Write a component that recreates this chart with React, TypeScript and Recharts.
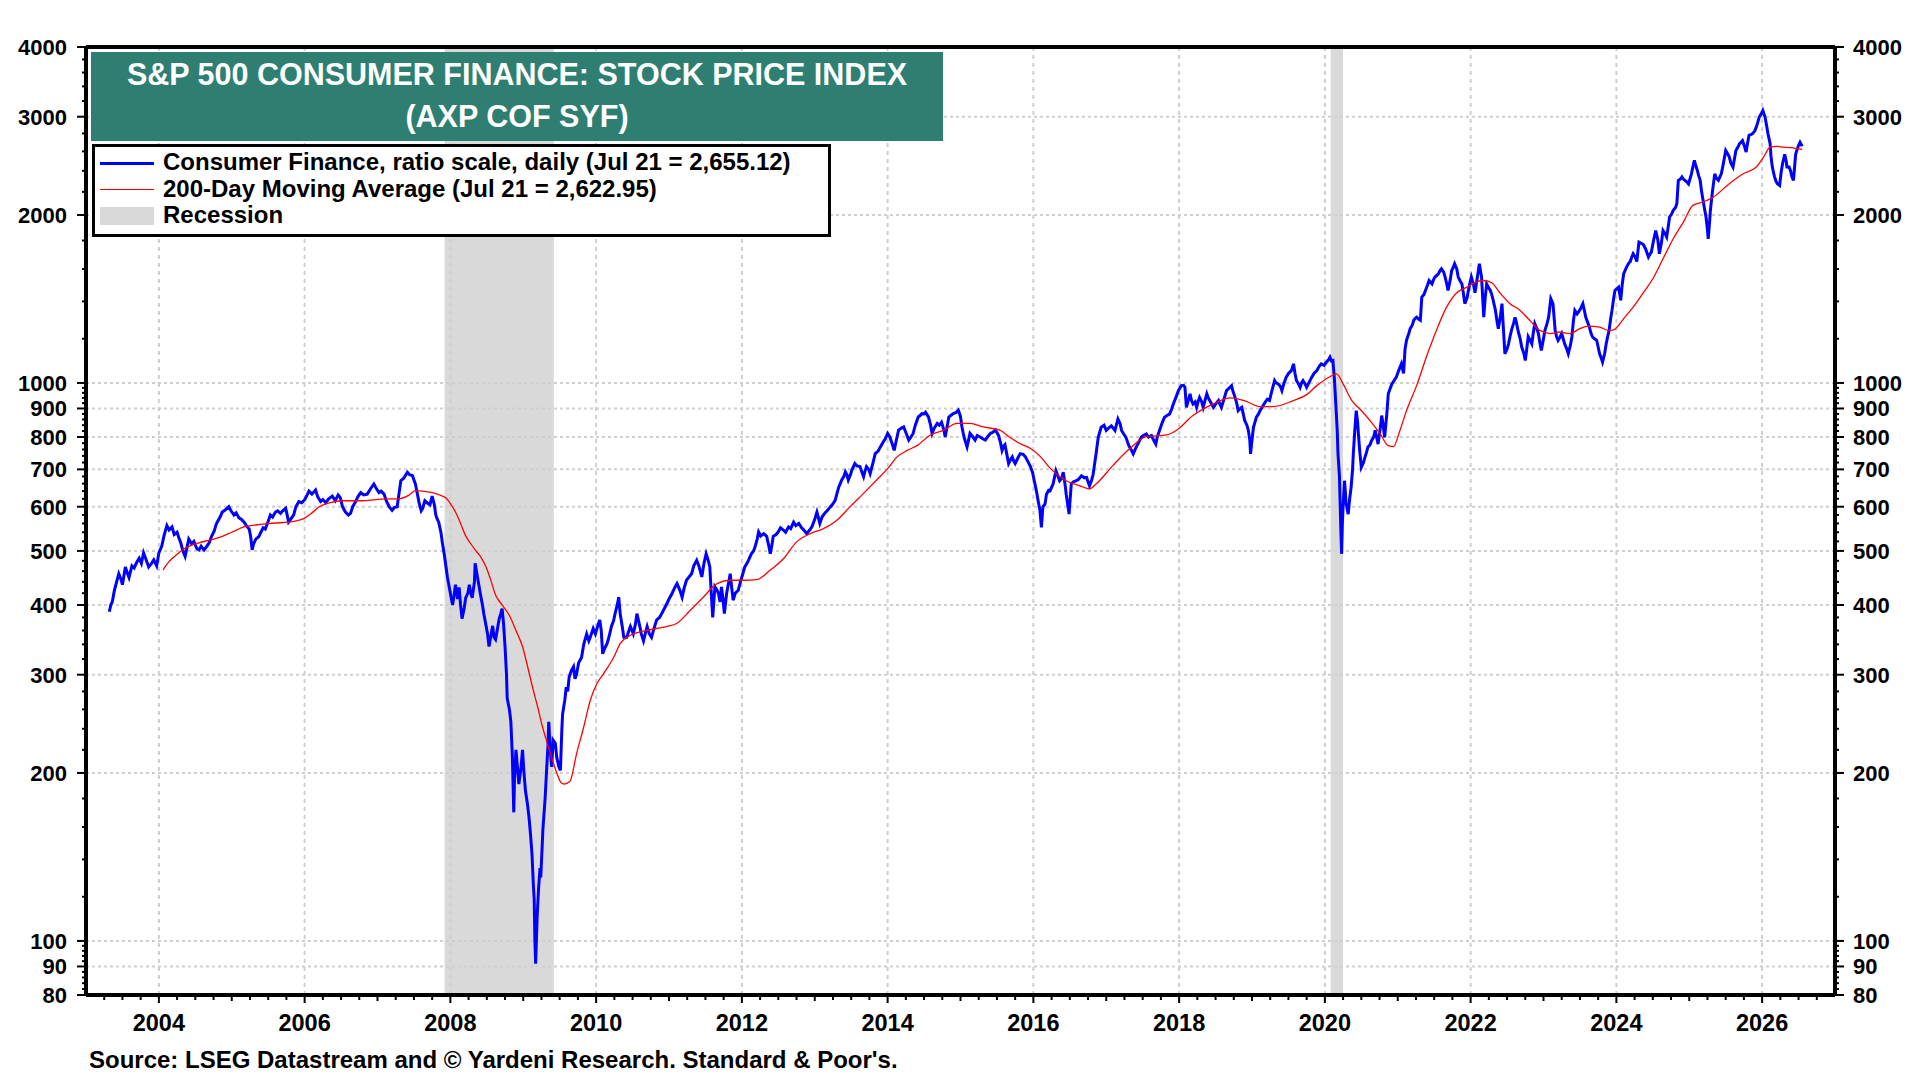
import React from 'react';
import { ComposedChart, Line, XAxis, YAxis, ReferenceArea, ReferenceLine } from 'recharts';

// ---------- DATA ----------
// Consumer Finance stock price index (decimal year, value)
const priceYears = [
  2003.32, 2003.34, 2003.36, 2003.39, 2003.41, 2003.45, 2003.48, 2003.50, 2003.54, 2003.57, 2003.59, 2003.63, 2003.66, 2003.70, 2003.73, 2003.76, 2003.79, 2003.83, 2003.86, 2003.90, 2003.93, 2003.97,
  2004.00, 2004.04, 2004.07, 2004.11, 2004.14, 2004.18, 2004.21, 2004.25, 2004.28, 2004.30, 2004.33, 2004.36, 2004.39, 2004.41, 2004.45, 2004.48, 2004.52, 2004.55, 2004.58, 2004.62, 2004.65, 2004.69, 2004.72, 2004.76, 2004.78, 2004.80, 2004.84, 2004.87, 2004.91, 2004.96, 2004.99,
  2005.03, 2005.06, 2005.10, 2005.13, 2005.17, 2005.20, 2005.24, 2005.26, 2005.28, 2005.30, 2005.33, 2005.37, 2005.40, 2005.43, 2005.46, 2005.50, 2005.53, 2005.56, 2005.60, 2005.63, 2005.67, 2005.70, 2005.74, 2005.76, 2005.78, 2005.81, 2005.85, 2005.88, 2005.92, 2005.96,
  2006.00, 2006.03, 2006.06, 2006.10, 2006.15, 2006.18, 2006.22, 2006.25, 2006.29, 2006.33, 2006.38, 2006.42, 2006.46, 2006.49, 2006.52, 2006.56, 2006.60, 2006.63, 2006.66, 2006.70, 2006.73, 2006.77, 2006.81, 2006.86, 2006.90, 2006.95, 2006.98,
  2007.02, 2007.05, 2007.09, 2007.12, 2007.16, 2007.20, 2007.23, 2007.27, 2007.30, 2007.32, 2007.36, 2007.41, 2007.44, 2007.48, 2007.50, 2007.52, 2007.55, 2007.57, 2007.60, 2007.62, 2007.65, 2007.68, 2007.72, 2007.75, 2007.78, 2007.80, 2007.82, 2007.84, 2007.87, 2007.89, 2007.92, 2007.96,
  2008.00, 2008.03, 2008.05, 2008.07, 2008.10, 2008.12, 2008.14, 2008.16, 2008.19, 2008.21, 2008.24, 2008.26, 2008.28, 2008.30, 2008.33, 2008.34, 2008.37, 2008.39, 2008.41, 2008.44, 2008.46, 2008.49, 2008.51, 2008.53, 2008.56, 2008.58, 2008.60, 2008.62, 2008.65, 2008.67, 2008.69, 2008.71, 2008.73, 2008.75, 2008.77, 2008.78, 2008.81, 2008.83, 2008.85, 2008.87, 2008.88, 2008.90, 2008.92, 2008.94, 2008.97, 2008.99,
  2009.01, 2009.03, 2009.06, 2009.08, 2009.10, 2009.12, 2009.14, 2009.15, 2009.16, 2009.17, 2009.19, 2009.21, 2009.23, 2009.24, 2009.26, 2009.27, 2009.30, 2009.32, 2009.34, 2009.35, 2009.37, 2009.39, 2009.41, 2009.44, 2009.46, 2009.49, 2009.51, 2009.53, 2009.54, 2009.57, 2009.59, 2009.61, 2009.63, 2009.66, 2009.69, 2009.71, 2009.73, 2009.76, 2009.80, 2009.83, 2009.87, 2009.90, 2009.92, 2009.96, 2009.99,
  2010.03, 2010.05, 2010.07, 2010.09, 2010.12, 2010.15, 2010.18, 2010.21, 2010.24, 2010.26, 2010.29, 2010.31, 2010.33, 2010.36, 2010.38, 2010.42, 2010.45, 2010.47, 2010.51, 2010.54, 2010.56, 2010.60, 2010.62, 2010.65, 2010.68, 2010.70, 2010.73, 2010.76, 2010.80, 2010.83, 2010.87, 2010.90, 2010.94, 2010.97,
  2011.00, 2011.04, 2011.08, 2011.11, 2011.15, 2011.18, 2011.21, 2011.24, 2011.28, 2011.31, 2011.34, 2011.38, 2011.41, 2011.45, 2011.48, 2011.51, 2011.54, 2011.56, 2011.58, 2011.60, 2011.63, 2011.66, 2011.68, 2011.70, 2011.72, 2011.74, 2011.76, 2011.79, 2011.82, 2011.84, 2011.86, 2011.88, 2011.91, 2011.95, 2011.98,
  2012.00, 2012.04, 2012.07, 2012.09, 2012.13, 2012.16, 2012.18, 2012.21, 2012.23, 2012.26, 2012.30, 2012.34, 2012.37, 2012.39, 2012.41, 2012.43, 2012.47, 2012.50, 2012.53, 2012.57, 2012.60, 2012.64, 2012.67, 2012.71, 2012.74, 2012.78, 2012.82, 2012.85, 2012.89, 2012.93, 2012.96,
  2013.00, 2013.03, 2013.07, 2013.10, 2013.14, 2013.17, 2013.21, 2013.24, 2013.28, 2013.30, 2013.33, 2013.35, 2013.37, 2013.40, 2013.42, 2013.44, 2013.46, 2013.49, 2013.51, 2013.55, 2013.58, 2013.62, 2013.65, 2013.67, 2013.69, 2013.71, 2013.74, 2013.76, 2013.80, 2013.83, 2013.87, 2013.90, 2013.94, 2013.97,
  2014.00, 2014.03, 2014.06, 2014.09, 2014.12, 2014.15, 2014.19, 2014.22, 2014.25, 2014.29, 2014.32, 2014.35, 2014.38, 2014.42, 2014.45, 2014.47, 2014.50, 2014.52, 2014.56, 2014.59, 2014.61, 2014.64, 2014.68, 2014.71, 2014.74, 2014.77, 2014.79, 2014.82, 2014.84, 2014.87, 2014.90, 2014.94, 2014.97,
  2015.00, 2015.02, 2015.04, 2015.06, 2015.09, 2015.11, 2015.13, 2015.17, 2015.20, 2015.23, 2015.27, 2015.30, 2015.34, 2015.37, 2015.41, 2015.44, 2015.48, 2015.52, 2015.55, 2015.57, 2015.59, 2015.61, 2015.64, 2015.66, 2015.69, 2015.71, 2015.73, 2015.75, 2015.79, 2015.82, 2015.86, 2015.89, 2015.92, 2015.96, 2015.99,
  2016.01, 2016.04, 2016.07, 2016.09, 2016.11, 2016.13, 2016.16, 2016.18, 2016.21, 2016.23, 2016.27, 2016.31, 2016.34, 2016.36, 2016.39, 2016.41, 2016.44, 2016.45, 2016.49, 2016.52, 2016.55, 2016.59, 2016.62, 2016.66, 2016.70, 2016.73, 2016.77, 2016.80, 2016.82, 2016.86, 2016.89, 2016.93, 2016.97,
  2017.00, 2017.04, 2017.07, 2017.12, 2017.16, 2017.19, 2017.21, 2017.24, 2017.27, 2017.31, 2017.34, 2017.37, 2017.41, 2017.45, 2017.48, 2017.51, 2017.55, 2017.58, 2017.62, 2017.65, 2017.68, 2017.70, 2017.73, 2017.77, 2017.80, 2017.84, 2017.87, 2017.90, 2017.92, 2017.96, 2017.99,
  2018.03, 2018.06, 2018.08, 2018.10, 2018.13, 2018.15, 2018.17, 2018.19, 2018.22, 2018.24, 2018.26, 2018.28, 2018.31, 2018.33, 2018.36, 2018.38, 2018.40, 2018.42, 2018.45, 2018.47, 2018.51, 2018.54, 2018.56, 2018.58, 2018.62, 2018.65, 2018.69, 2018.72, 2018.74, 2018.76, 2018.79, 2018.81, 2018.84, 2018.86, 2018.88, 2018.90, 2018.93, 2018.95, 2018.97, 2018.98,
  2019.00, 2019.02, 2019.04, 2019.06, 2019.09, 2019.11, 2019.15, 2019.18, 2019.21, 2019.24, 2019.27, 2019.31, 2019.33, 2019.36, 2019.39, 2019.41, 2019.44, 2019.47, 2019.50, 2019.54, 2019.57, 2019.59, 2019.61, 2019.64, 2019.66, 2019.68, 2019.70, 2019.73, 2019.75, 2019.78, 2019.82, 2019.85, 2019.89, 2019.92, 2019.95, 2019.99,
  2020.02, 2020.05, 2020.07, 2020.09, 2020.11, 2020.13, 2020.15, 2020.17, 2020.18, 2020.20, 2020.21, 2020.22, 2020.23, 2020.24, 2020.25, 2020.27, 2020.29, 2020.32, 2020.34, 2020.36, 2020.38, 2020.39, 2020.41, 2020.43, 2020.45, 2020.46, 2020.48, 2020.50, 2020.53, 2020.55, 2020.57, 2020.59, 2020.62, 2020.64, 2020.67, 2020.69, 2020.71, 2020.73, 2020.76, 2020.78, 2020.80, 2020.82, 2020.85, 2020.87, 2020.90, 2020.92, 2020.95, 2020.98,
  2021.01, 2021.05, 2021.08, 2021.10, 2021.12, 2021.15, 2021.17, 2021.20, 2021.22, 2021.24, 2021.26, 2021.29, 2021.31, 2021.33, 2021.36, 2021.38, 2021.41, 2021.43, 2021.45, 2021.47, 2021.49, 2021.51, 2021.54, 2021.56, 2021.58, 2021.60, 2021.63, 2021.65, 2021.67, 2021.69, 2021.72, 2021.74, 2021.76, 2021.78, 2021.81, 2021.83, 2021.86, 2021.88, 2021.90, 2021.92, 2021.95, 2021.97, 2021.99,
  2022.01, 2022.04, 2022.06, 2022.09, 2022.12, 2022.15, 2022.18, 2022.20, 2022.22, 2022.25, 2022.27, 2022.29, 2022.31, 2022.34, 2022.36, 2022.38, 2022.41, 2022.43, 2022.45, 2022.47, 2022.50, 2022.52, 2022.54, 2022.56, 2022.59, 2022.61, 2022.63, 2022.65, 2022.68, 2022.70, 2022.73, 2022.75, 2022.77, 2022.79, 2022.82, 2022.84, 2022.86, 2022.88, 2022.91, 2022.93, 2022.95, 2022.97,
  2023.00, 2023.02, 2023.05, 2023.07, 2023.10, 2023.13, 2023.16, 2023.18, 2023.20, 2023.23, 2023.25, 2023.27, 2023.29, 2023.32, 2023.34, 2023.37, 2023.39, 2023.41, 2023.43, 2023.46, 2023.48, 2023.51, 2023.54, 2023.56, 2023.58, 2023.61, 2023.63, 2023.65, 2023.67, 2023.70, 2023.73, 2023.75, 2023.77, 2023.79, 2023.81, 2023.84, 2023.86, 2023.88, 2023.90, 2023.92, 2023.94, 2023.96, 2023.98,
  2024.03, 2024.06, 2024.08, 2024.10, 2024.14, 2024.17, 2024.19, 2024.21, 2024.23, 2024.26, 2024.28, 2024.31, 2024.34, 2024.37, 2024.40, 2024.44, 2024.46, 2024.48, 2024.51, 2024.54, 2024.57, 2024.59, 2024.62, 2024.64, 2024.67, 2024.69, 2024.71, 2024.73, 2024.76, 2024.78, 2024.81, 2024.83, 2024.85, 2024.88, 2024.90, 2024.92, 2024.94, 2024.97, 2024.99,
  2025.01, 2025.03, 2025.05, 2025.07, 2025.09, 2025.11, 2025.13, 2025.15, 2025.17, 2025.19, 2025.21, 2025.23, 2025.25, 2025.26, 2025.28, 2025.29, 2025.32, 2025.35, 2025.37, 2025.40, 2025.42, 2025.44, 2025.47, 2025.50, 2025.53, 2025.55, 2025.57, 2025.60, 2025.62, 2025.64, 2025.67, 2025.69, 2025.71, 2025.73, 2025.76, 2025.78, 2025.80, 2025.82, 2025.85, 2025.87, 2025.90, 2025.92, 2025.94, 2025.96, 2025.99,
  2026.01, 2026.04, 2026.06, 2026.08, 2026.11, 2026.12, 2026.14, 2026.17, 2026.19, 2026.21, 2026.24, 2026.26, 2026.28, 2026.31, 2026.33, 2026.34, 2026.37, 2026.39, 2026.41, 2026.43, 2026.46, 2026.48, 2026.50, 2026.52, 2026.55,
];
const priceValues = [
  389, 400, 405, 425, 435, 455, 445, 435, 468, 455, 448, 470, 466, 478, 485, 475, 496, 480, 468, 475, 482, 470,
  496, 510, 532, 555, 545, 552, 535, 540, 525, 517, 500, 489, 510, 525, 515, 520, 505, 502, 510, 502, 508, 517, 530, 543, 555, 563, 575, 587, 592, 600, 590,
  580, 585, 573, 570, 563, 555, 547, 530, 502, 515, 525, 530, 540, 550, 547, 565, 580, 575, 587, 590, 584, 590, 596, 580, 563, 570, 580, 600, 613, 610,
  617, 628, 640, 632, 643, 625, 613, 618, 610, 620, 627, 615, 630, 623, 600, 587, 580, 584, 600, 613, 625, 636, 630, 632, 645, 659, 648,
  636, 640, 632, 615, 600, 591, 598, 600, 640, 668, 675, 692, 685, 682, 670, 659, 630, 610, 590, 596, 615, 610, 605, 627, 605, 580, 570, 563, 540, 517, 489, 448,
  420, 400, 415, 435, 410, 430, 400, 378, 395, 412, 420, 435, 420, 412, 440, 475, 450, 435, 420, 400, 385, 367, 355, 337, 355, 367, 350, 347, 365, 378, 385, 394, 370, 337, 300, 272, 260, 247, 215, 170, 195, 220, 205, 191, 205, 220,
  200, 186, 175, 166, 155, 143, 125, 119, 100, 91, 110, 124, 135, 130, 148, 159, 180, 202, 225, 247, 220, 205, 229, 226, 213, 205, 202, 240, 255, 270, 285, 280, 297, 305, 310, 295, 300, 315, 322, 340, 355, 345, 350, 363, 355,
  370, 376, 360, 327, 335, 341, 352, 366, 375, 386, 400, 413, 386, 365, 350, 350, 360, 366, 355, 370, 386, 366, 355, 345, 358, 366, 355, 350, 365, 376, 380, 386, 395, 402,
  410, 419, 430, 437, 425, 413, 430, 443, 450, 455, 470, 481, 470, 449, 475, 494, 480, 468, 420, 380, 431, 425, 419, 405, 431, 410, 386, 419, 440, 455, 430, 408, 420, 425, 440,
  449, 468, 475, 481, 494, 500, 508, 525, 541, 532, 537, 531, 510, 494, 510, 531, 535, 541, 550, 545, 540, 552, 548, 563, 555, 560, 550, 545, 537, 545, 552,
  570, 587, 560, 575, 585, 590, 599, 605, 616, 630, 651, 660, 670, 680, 693, 685, 670, 685, 698, 717, 710, 708, 690, 679, 695, 708, 700, 688, 720, 747, 755, 768, 784, 795,
  812, 800, 780, 757, 790, 823, 830, 834, 815, 790, 800, 812, 840, 869, 875, 881, 880, 886, 869, 840, 812, 830, 846, 840, 850, 825, 800, 840, 869, 875, 881, 885, 894,
  870, 834, 810, 790, 768, 790, 812, 800, 790, 805, 800, 795, 790, 800, 812, 815, 823, 806, 780, 757, 770, 775, 740, 717, 730, 737, 725, 717, 735, 747, 745, 737, 725, 708, 690,
  670, 642, 610, 591, 551, 599, 607, 632, 642, 641, 659, 696, 680, 668, 675, 692, 650, 632, 582, 659, 665, 668, 672, 682, 676, 677, 654, 670, 686, 746, 799, 833, 840,
  822, 832, 838, 822, 862, 845, 822, 810, 799, 772, 760, 746, 767, 785, 799, 805, 810, 800, 805, 790, 777, 800, 822, 850, 868, 875, 880, 900, 917, 945, 969,
  989, 990, 982, 904, 935, 956, 930, 917, 925, 904, 925, 942, 925, 904, 935, 956, 940, 930, 915, 904, 920, 930, 915, 904, 940, 969, 980, 989, 965, 949, 920, 892, 900, 904, 880, 856, 840, 822, 790, 746,
  790, 833, 850, 868, 880, 892, 910, 923, 935, 930, 965, 1010, 1000, 996, 985, 969, 1000, 1024, 1040, 1052, 1082, 1040, 1010, 995, 982, 1000, 1010, 995, 982, 1000, 1024, 1040, 1052, 1070, 1082, 1075,
  1089, 1100, 1112, 1095, 1097, 1020, 917, 820, 746, 680, 607, 540, 494, 560, 600, 668, 610, 582, 620, 650, 700, 746, 820, 892, 850, 810, 750, 706, 720, 736, 750, 767, 775, 788, 800, 822, 800, 777, 830, 874, 840, 799, 880, 956, 980, 996, 1010, 1024,
  1050, 1082, 1040, 1150, 1192, 1225, 1250, 1270, 1295, 1305, 1311, 1300, 1295, 1425, 1440, 1465, 1500, 1526, 1515, 1505, 1530, 1548, 1560, 1570, 1590, 1602, 1580, 1548, 1510, 1465, 1530, 1590, 1610, 1635, 1600, 1548, 1520, 1505, 1450, 1387, 1420, 1465, 1510,
  1548, 1500, 1451, 1540, 1635, 1548, 1312, 1420, 1505, 1480, 1465, 1440, 1406, 1350, 1295, 1251, 1320, 1387, 1250, 1128, 1150, 1175, 1210, 1242, 1280, 1311, 1280, 1242, 1200, 1161, 1130, 1097, 1150, 1210, 1190, 1175, 1230, 1277, 1250, 1226, 1180, 1143,
  1200, 1242, 1280, 1311, 1416, 1387, 1242, 1210, 1192, 1210, 1226, 1200, 1175, 1150, 1128, 1170, 1210, 1290, 1349, 1330, 1340, 1360, 1387, 1350, 1311, 1280, 1259, 1230, 1210, 1200, 1192, 1160, 1128, 1110, 1090, 1130, 1175, 1210, 1242, 1300, 1349, 1410, 1465,
  1485, 1406, 1500, 1570, 1613, 1640, 1650, 1680, 1704, 1680, 1650, 1788, 1780, 1770, 1740, 1681, 1700, 1716, 1800, 1876, 1800, 1704, 1790, 1876, 1850, 1827, 1900, 1983, 2010, 2038, 2060, 2096, 2307, 2320, 2340, 2320, 2307, 2290, 2274,
  2320, 2370, 2440, 2505, 2450, 2405, 2350, 2307, 2200, 2124, 2050, 1983, 1880, 1813, 1950, 2038, 2214, 2370, 2330, 2307, 2340, 2370, 2480, 2610, 2570, 2540, 2480, 2437, 2520, 2610, 2650, 2684, 2700, 2718, 2650, 2593, 2690, 2779, 2790, 2798, 2830, 2874, 2930, 2996, 3040,
  3079, 2996, 2900, 2798, 2684, 2560, 2437, 2340, 2300, 2274, 2259, 2380, 2471, 2569, 2500, 2437, 2437, 2400, 2340, 2307, 2569, 2620, 2666, 2700, 2655,
];

// 200-day moving average (decimal year, value)
const maYears = [
  2004.06, 2004.08, 2004.15, 2004.25, 2004.32, 2004.45, 2004.55, 2004.70, 2004.82, 2005.00, 2005.19, 2005.35, 2005.46, 2005.60, 2005.78, 2005.97,
  2006.10, 2006.20, 2006.35, 2006.52, 2006.65, 2006.79, 2006.95, 2007.11, 2007.29, 2007.42, 2007.52, 2007.62, 2007.75, 2007.85, 2007.94,
  2008.00, 2008.07, 2008.14, 2008.21, 2008.28, 2008.34, 2008.42, 2008.49, 2008.55, 2008.62, 2008.71, 2008.81, 2008.90, 2008.99,
  2009.06, 2009.13, 2009.20, 2009.26, 2009.33, 2009.40, 2009.46, 2009.52, 2009.56, 2009.64, 2009.73, 2009.83, 2009.92,
  2010.01, 2010.10, 2010.24, 2010.33, 2010.47, 2010.65, 2010.83, 2010.97, 2011.11, 2011.29, 2011.47, 2011.66, 2011.84,
  2012.02, 2012.20, 2012.39, 2012.57, 2012.75, 2012.94, 2013.12, 2013.30, 2013.48, 2013.67, 2013.85,
  2014.00, 2014.13, 2014.27, 2014.41, 2014.58, 2014.77, 2014.95, 2015.13, 2015.31, 2015.54, 2015.67, 2015.82, 2015.96,
  2016.10, 2016.21, 2016.45, 2016.64, 2016.77, 2016.86, 2017.09, 2017.32, 2017.55, 2017.83, 2017.96,
  2018.19, 2018.47, 2018.70, 2018.92, 2019.11, 2019.29, 2019.57, 2019.75, 2019.89,
  2020.07, 2020.16, 2020.25, 2020.37, 2020.48, 2020.62, 2020.76, 2020.87, 2020.94,
  2021.03, 2021.12, 2021.26, 2021.40, 2021.53, 2021.67, 2021.81, 2021.95,
  2022.08, 2022.17, 2022.29, 2022.40, 2022.54, 2022.68, 2022.81, 2022.95,
  2023.09, 2023.22, 2023.36, 2023.50, 2023.61, 2023.77, 2023.89, 2023.96,
  2024.10, 2024.23, 2024.37, 2024.50, 2024.64, 2024.78, 2024.92,
  2025.05, 2025.19, 2025.33, 2025.55, 2025.74, 2025.92,
  2026.02, 2026.11, 2026.20, 2026.29, 2026.40, 2026.50, 2026.55,
];
const maValues = [
  462, 467, 480, 493, 502, 512, 517, 523, 528, 540, 553, 557, 559, 561, 563, 570,
  585, 600, 610, 615, 615, 615, 617, 620, 620, 628, 641, 640, 636, 630, 622,
  608, 587, 560, 532, 515, 502, 487, 468, 445, 417, 400, 383, 360, 337,
  310, 284, 262, 243, 226, 211, 200, 192, 191, 193, 216, 242, 270,
  289, 301, 322, 341, 353, 359, 363, 366, 371, 391, 413, 437, 443,
  443, 444, 462, 484, 519, 537, 548, 567, 599, 634, 670,
  702, 737, 757, 773, 806, 823, 846, 846, 834, 823, 800, 778, 763,
  737, 708, 668, 654, 646, 659, 711, 762, 801, 807, 822,
  874, 917, 940, 927, 907, 907, 930, 953, 989,
  1026, 1038, 996, 930, 898, 856, 810, 772, 769,
  822, 892, 990, 1120, 1242, 1367, 1451, 1485,
  1517, 1526, 1512, 1451, 1387, 1349, 1295, 1242,
  1226, 1234, 1226, 1251, 1264, 1259, 1242, 1245,
  1304, 1367, 1451, 1537, 1669, 1813, 1942,
  2081, 2110, 2153, 2276, 2371, 2437,
  2540, 2647, 2654, 2647, 2640, 2627, 2623,
];

const recessionStarts = [2007.92, 2020.08];
const recessionEnds = [2009.42, 2020.25];

const yLabelTicks = [80, 90, 100, 200, 300, 400, 500, 600, 700, 800, 900, 1000, 2000, 3000, 4000];
const xLabelYears = [2004, 2006, 2008, 2010, 2012, 2014, 2016, 2018, 2020, 2022, 2024, 2026];

const titleLines = ['S&P 500 CONSUMER FINANCE: STOCK PRICE INDEX', '(AXP COF SYF)'];
const legendLabels = [
  'Consumer Finance, ratio scale, daily (Jul 21 = 2,655.12)',
  '200-Day Moving Average (Jul 21 = 2,622.95)',
  'Recession',
];
const sourceText = "Source: LSEG Datastream and \u00A9 Yardeni Research. Standard & Poor's.";

// ---------- derived ----------
const priceData = priceYears.map((t, i) => ({ t, v: priceValues[i] }));
const maData = maYears.map((t, i) => ({ t, v: maValues[i] }));

const yAllTicks: number[] = (() => {
  const out: number[] = [];
  for (let v = 80; v < 100; v += 2) out.push(v);
  for (let v = 100; v < 1000; v += 20) out.push(v);
  for (let v = 1000; v <= 4000; v += 200) out.push(v);
  yLabelTicks.forEach((v) => { if (!out.includes(v)) out.push(v); });
  return out.sort((a, b) => a - b);
})();
const xAllTicks: number[] = (() => {
  const out: number[] = [];
  for (let q = 2003 * 4 + 1; q < 2027 * 4; q++) out.push(q / 4);
  return out;
})();

const FONT = '"Liberation Sans", Arial, Helvetica, sans-serif';
const GRID = '#cfcfcf';

const LeftTick = (props: any) => {
  const { x, y, payload } = props;
  const v = payload.value;
  const major = yLabelTicks.includes(v);
  return (
    <g>
      <line x1={x - (major ? 9 : 4)} x2={x} y1={y} y2={y} stroke="#000" strokeWidth={2} />
      {major && (
        <text x={x - 19} y={y} dy={8} textAnchor="end" fontSize={22} fontWeight="bold" fontFamily={FONT} fill="#000">
          {v}
        </text>
      )}
    </g>
  );
};

const RightTick = (props: any) => {
  const { x, y, payload } = props;
  const v = payload.value;
  const major = yLabelTicks.includes(v);
  return (
    <g>
      <line x1={x} x2={x + (major ? 9 : 4)} y1={y} y2={y} stroke="#000" strokeWidth={2} />
      {major && (
        <text x={x + 18} y={y} dy={8} textAnchor="start" fontSize={22} fontWeight="bold" fontFamily={FONT} fill="#000">
          {v}
        </text>
      )}
    </g>
  );
};

const BottomTick = (props: any) => {
  const { x, y, payload } = props;
  const v = payload.value;
  const major = xLabelYears.includes(v);
  const yearTick = Number.isInteger(v);
  return (
    <g>
      <line x1={x} x2={x} y1={y} y2={y + (major ? 8 : yearTick ? 6 : 5)} stroke="#000" strokeWidth={2} />
      {major && (
        <text x={x} y={y} dy={36} textAnchor="middle" fontSize={23.5} fontWeight="bold" fontFamily={FONT} fill="#000">
          {v}
        </text>
      )}
    </g>
  );
};

export default function App() {
  return (
    <div style={{ position: 'absolute', left: 0, top: 0, width: 1920, height: 1080, background: '#fff', overflow: 'hidden' }}>
      <ComposedChart width={1920} height={1080} margin={{ top: 47, right: 0, bottom: 45, left: 0 }}>
        <XAxis
          xAxisId="x"
          dataKey="t"
          type="number"
          domain={[2003, 2027]}
          allowDataOverflow
          ticks={xAllTicks}
          interval={0}
          tick={<BottomTick />}
          tickSize={0}
          tickMargin={0}
          tickLine={false}
          axisLine={{ stroke: '#000', strokeWidth: 4 }}
          height={40}
        />
        <YAxis
          yAxisId="L"
          orientation="left"
          type="number"
          scale="log"
          domain={[80, 4000]}
          allowDataOverflow
          ticks={yAllTicks}
          interval={0}
          tick={<LeftTick />}
          tickSize={0}
          tickMargin={0}
          tickLine={false}
          axisLine={{ stroke: '#000', strokeWidth: 4 }}
          width={86}
        />
        <YAxis
          yAxisId="R"
          orientation="right"
          type="number"
          scale="log"
          domain={[80, 4000]}
          allowDataOverflow
          ticks={yAllTicks}
          interval={0}
          tick={<RightTick />}
          tickSize={0}
          tickMargin={0}
          tickLine={false}
          axisLine={{ stroke: '#000', strokeWidth: 4 }}
          width={85}
        />
        {recessionStarts.map((s, i) => (
          <ReferenceArea
            key={'rec' + i}
            xAxisId="x"
            yAxisId="L"
            x1={s}
            x2={recessionEnds[i]}
            y1={80}
            y2={4000}
            fill="#d9d9d9"
            fillOpacity={1}
            stroke="none"
          />
        ))}
        {yLabelTicks.filter((v) => v > 80 && v < 4000).map((v) => (
          <ReferenceLine key={'hy' + v} xAxisId="x" yAxisId="L" y={v} stroke={GRID} strokeWidth={2} strokeDasharray="3 3" />
        ))}
        {xLabelYears.map((v) => (
          <ReferenceLine key={'vx' + v} xAxisId="x" yAxisId="L" x={v} stroke={GRID} strokeWidth={2} strokeDasharray="4 4" />
        ))}
        <ReferenceLine xAxisId="x" yAxisId="L" y={4000} stroke="#000" strokeWidth={4} />
        <Line
          xAxisId="x"
          yAxisId="L"
          data={priceData}
          dataKey="v"
          type="linear"
          stroke="#0000ff"
          strokeWidth={3}
          dot={false}
          isAnimationActive={false}
        />
        <Line
          xAxisId="x"
          yAxisId="R"
          data={maData}
          dataKey="v"
          type="monotone"
          stroke="#ff0000"
          strokeWidth={1.3}
          dot={false}
          isAnimationActive={false}
        />
      </ComposedChart>

      {/* Title box */}
      <div
        style={{
          position: 'absolute', left: 91, top: 52, width: 852, height: 89, background: '#2e7e72',
          color: '#fff', fontFamily: FONT, fontWeight: 'bold', fontSize: 30.5, textAlign: 'center',
          lineHeight: '42px', paddingTop: 1, boxSizing: 'border-box',
        }}
      >
        <div>{titleLines[0]}</div>
        <div>{titleLines[1]}</div>
      </div>

      {/* Legend box */}
      <div
        style={{
          position: 'absolute', left: 92, top: 144, width: 739, height: 93, background: '#fff',
          border: '3px solid #000', boxSizing: 'border-box', fontFamily: FONT, fontWeight: 'bold', fontSize: 24, color: '#000',
        }}
      >
        {legendLabels.map((lab, i) => (
          <div key={lab} style={{ position: 'absolute', left: 0, top: 2 + i * 26.6, height: 26, width: 730 }}>
            {i === 0 && <div style={{ position: 'absolute', left: 5, top: 13, width: 54, height: 2.5, background: '#0000ff' }} />}
            {i === 1 && <div style={{ position: 'absolute', left: 5, top: 13, width: 54, height: 1.3, background: '#ff0000' }} />}
            {i === 2 && <div style={{ position: 'absolute', left: 5, top: 5, width: 54, height: 18, background: '#d9d9d9' }} />}
            <div style={{ position: 'absolute', left: 68, top: -1, lineHeight: '27px', whiteSpace: 'nowrap' }}>{lab}</div>
          </div>
        ))}
      </div>

      {/* Source */}
      <div
        style={{
          position: 'absolute', left: 89, top: 1046, fontFamily: FONT, fontWeight: 'bold', fontSize: 24,
          color: '#000', whiteSpace: 'nowrap', lineHeight: '28px',
        }}
      >
        {sourceText}
      </div>
    </div>
  );
}
